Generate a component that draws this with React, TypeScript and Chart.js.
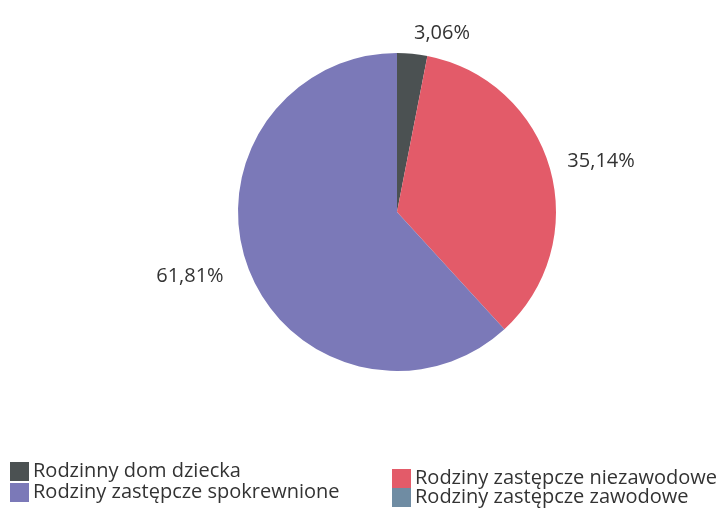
import React, { useEffect, useRef } from "react";
import { Chart, registerables } from "chart.js";

Chart.register(...registerables);

const categories = [
  "Rodzinny dom dziecka",
  "Rodziny zastępcze niezawodowe",
  "Rodziny zastępcze spokrewnione",
  "Rodziny zastępcze zawodowe",
];
const values = [3.06, 35.14, 61.81, 0];
const valueLabels = ["3,06%", "35,14%", "61,81%", ""];
const colors = ["#4b5152", "#e35b69", "#7b79b8", "#6f8ca3"];
// legend order: left column then right column
const legendLeft = [0, 2];
const legendRight = [1, 3];

const FONT = "'Open Sans', 'DejaVu Sans', sans-serif";

const labelPlugin = {
  id: "pctLabels",
  afterDatasetsDraw(chart: any) {
    const ctx = chart.ctx;
    const meta = chart.getDatasetMeta(0);
    ctx.save();
    ctx.font = `20px ${FONT}`;
    ctx.fillStyle = "#333333";
    ctx.textBaseline = "middle";
    meta.data.forEach((arc: any, i: number) => {
      if (!values[i]) return;
      const mid = (arc.startAngle + arc.endAngle) / 2;
      const right = Math.cos(mid) >= 0;
      const d = arc.outerRadius + (right ? 18 : 27);
      const x = arc.x + Math.cos(mid) * d;
      const y = arc.y + Math.sin(mid) * d - 3;
      ctx.textAlign = right ? "left" : "right";
      ctx.fillText(valueLabels[i], x, y);
    });
    ctx.restore();
  },
};

const legendPlugin = {
  id: "gridLegend",
  afterDraw(chart: any) {
    const ctx = chart.ctx;
    ctx.save();
    ctx.font = `20px ${FONT}`;
    ctx.textBaseline = "middle";
    ctx.textAlign = "left";
    const drawCol = (idx: number[], x0: number, y0: number, step: number) => {
      idx.forEach((ci, r) => {
        const y = y0 + r * step;
        ctx.fillStyle = colors[ci];
        ctx.fillRect(x0, y - 9, 19, 19);
        ctx.fillStyle = "#333333";
        ctx.fillText(categories[ci], x0 + 23, y);
      });
    };
    drawCol(legendLeft, 10, 471, 21);
    drawCol(legendRight, 392, 478, 19);
    ctx.restore();
  },
};

export default function App() {
  const ref = useRef<HTMLCanvasElement | null>(null);
  useEffect(() => {
    document.body.style.margin = "0";
    const chart = new Chart(ref.current!, {
      type: "pie",
      data: {
        labels: categories,
        datasets: [
          {
            data: values,
            backgroundColor: colors,
            borderWidth: 0,
          },
        ],
      },
      options: {
        responsive: false,
        animation: false,
        layout: { padding: { top: 53, bottom: 144, left: 238, right: 172 } },
        plugins: { legend: { display: false }, tooltip: { enabled: false } },
      },
      plugins: [labelPlugin, legendPlugin],
    });
    return () => chart.destroy();
  }, []);
  return (
    <div style={{ position: "absolute", left: 0, top: 0, width: 728, height: 515, background: "#fff" }}>
      <canvas ref={ref} width={728} height={515} />
    </div>
  );
}
